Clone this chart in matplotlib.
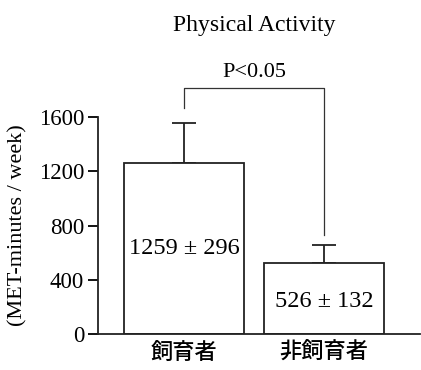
import matplotlib.pyplot as plt
import numpy as np

groups = ['飼育者', '非飼育者']
means = [1259, 526]
sds = [296, 132]
labels = ['1259 ± 296', '526 ± 132']
yticks = [0, 400, 800, 1200, 1600]

plt.rcParams['font.family'] = ['Liberation Serif', 'DejaVu Serif']

fig = plt.figure(figsize=(4.21, 3.70), dpi=100)
ax = fig.add_axes([98/421, 1-334/370, 322/421, 217/370])

x = np.arange(len(groups))
ax.bar(x, means, width=0.86, color='white', edgecolor='#222222', linewidth=1.3, zorder=2)
ax.errorbar(x, means, yerr=[np.zeros(2), sds], fmt='none', ecolor='#222222',
            elinewidth=1.3, capsize=8.5, capthick=1.3, zorder=1)

ax.set_xlim(-0.614, 1.686)
ax.set_ylim(0, 1600)
ax.set_yticks(yticks)
ax.set_yticklabels([str(t) for t in yticks], fontsize=16.5)
ax.set_xticks(x)
ax.set_xticklabels(groups, fontsize=16, family=['Noto Sans CJK JP'], weight='medium')
ax.tick_params(axis='x', length=0, pad=5)
ax.tick_params(axis='y', length=7, width=1.3, direction='out', pad=3)
for s in ['top', 'right']:
    ax.spines[s].set_visible(False)
for s in ['left', 'bottom']:
    ax.spines[s].set_linewidth(1.3)
    ax.spines[s].set_color('#222222')

ax.set_ylabel('(MET-minutes / week)', fontsize=16, labelpad=8)

# values inside bars
ax.text(x[0], 634, labels[0], ha='center', va='center', fontsize=17.5)
ax.text(x[1], 243, labels[1], ha='center', va='center', fontsize=17.5)

# significance bracket
ax.plot([x[0], x[0], x[1], x[1]], [1666, 1814, 1814, 730], color='#333333',
        linewidth=0.9, clip_on=False)
ax.text(0.5, 1930, 'P<0.05', ha='center', va='center', fontsize=16)

fig.text(254/421, 1-25/370, 'Physical Activity', ha='center', va='center', fontsize=17)

fig.savefig('out.png', dpi=100)
